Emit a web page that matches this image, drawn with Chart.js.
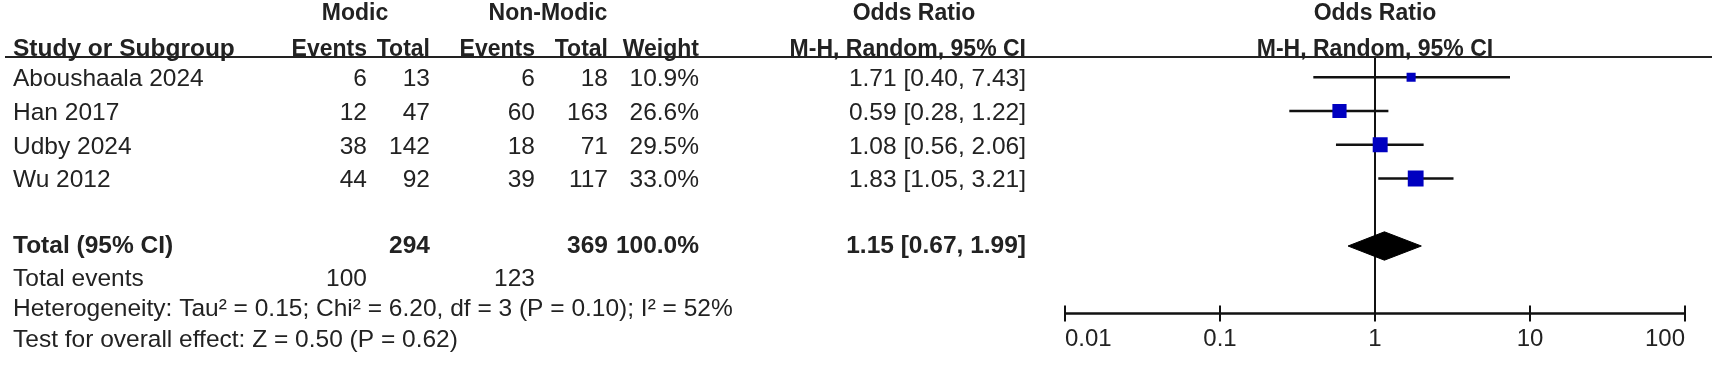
<!DOCTYPE html>
<html lang="en">
<head>
  <meta charset="UTF-8" />
  <title>Forest plot - Modic vs Non-Modic</title>
  <style>
    html, body { margin: 0; padding: 0; background: #fff; }
    #wrap { width: 1712px; height: 375px; position: relative; }
  </style>
</head>
<body>
  <div id="wrap"><canvas id="forest"></canvas></div>

  <script src="https://cdn.jsdelivr.net/npm/chart.js"></script>
  <script>
    // study data
    const studies = ['Aboushaala 2024', 'Han 2017', 'Udby 2024', 'Wu 2012'];
    const modicEvents = [6, 12, 38, 44];
    const modicTotal = [13, 47, 142, 92];
    const nonModicEvents = [6, 60, 18, 39];
    const nonModicTotal = [18, 163, 71, 117];
    const weights = [10.9, 26.6, 29.5, 33.0];
    const orEst = [1.71, 0.59, 1.08, 1.83];
    const orLow = [0.40, 0.28, 0.56, 1.05];
    const orHigh = [7.43, 1.22, 2.06, 3.21];

    // pooled result
    const pooled = { est: 1.15, low: 0.67, high: 1.99 };
    const totals = { modic: 294, nonModic: 369, weight: '100.0%' };
    const totalEvents = { modic: 100, nonModic: 123 };
    const heterogeneity = 'Heterogeneity: Tau\u00B2 = 0.15; Chi\u00B2 = 6.20, df = 3 (P = 0.10); I\u00B2 = 52%';
    const overallEffect = 'Test for overall effect: Z = 0.50 (P = 0.62)';

    const axisTicks = [0.01, 0.1, 1, 10, 100];
    const axisLabels = ['0.01', '0.1', '1', '10', '100'];

    const POOLED_ROW = 5;
    const FONT = '"Liberation Sans", Arial, sans-serif';
    const TXT = '#222';
    const BODY = 24.5;

    // column anchors (right edges unless noted)
    const COL = { study: 13, mEv: 367, mTot: 430, nEv: 535, nTot: 608, weight: 699, or: 1026 };

    const fmtOR = (e, l, h) => `${e.toFixed(2)} [${l.toFixed(2)}, ${h.toFixed(2)}]`;

    // box side grows with sqrt of weight (area ~ weight)
    const boxSide = w => 2.75 * Math.sqrt(w);

    const ciSets = studies.map((s, i) => ({
      label: s,
      data: [{ x: orLow[i], y: i }, { x: orHigh[i], y: i }],
      showLine: true,
      borderColor: '#111',
      borderWidth: 2.5,
      pointRadius: 0,
      order: 2
    }));

    const tablePlugin = {
      id: 'forestTable',
      afterDraw(chart) {
        const ctx = chart.ctx;
        const xs = chart.scales.x;
        const ys = chart.scales.y;
        const area = chart.chartArea;
        const plotMid = (area.left + area.right) / 2;

        const text = (t, x, y, align, bold, size) => {
          ctx.font = `${bold ? 'bold ' : ''}${size || BODY}px ${FONT}`;
          ctx.textAlign = align;
          ctx.textBaseline = 'middle';
          ctx.fillStyle = TXT;
          ctx.fillText(t, x, y);
        };
        const head = (t, x, y, align, size) => text(t, x, y, align, true, size || 23);

        ctx.save();
        // headers
        head('Modic', 355, 14, 'center');
        head('Non-Modic', 548, 14, 'center');
        head('Odds Ratio', 914, 14, 'center');
        head('Odds Ratio', plotMid, 14, 'center');

        head('Study or Subgroup', COL.study, 49.5, 'left', 24.5);
        head('Events', COL.mEv, 49.5, 'right');
        head('Total', COL.mTot, 49.5, 'right');
        head('Events', COL.nEv, 49.5, 'right');
        head('Total', COL.nTot, 49.5, 'right');
        head('Weight', COL.weight, 49.5, 'right');
        head('M-H, Random, 95% CI', COL.or, 49.5, 'right');
        head('M-H, Random, 95% CI', plotMid, 49.5, 'center');

        ctx.strokeStyle = '#222';
        ctx.lineWidth = 2;
        ctx.beginPath();
        ctx.moveTo(5, area.top);
        ctx.lineTo(1712, area.top);
        ctx.stroke();

        // study rows
        studies.forEach((s, i) => {
          const y = ys.getPixelForValue(i) + 2;
          text(s, COL.study, y, 'left');
          text(String(modicEvents[i]), COL.mEv, y, 'right');
          text(String(modicTotal[i]), COL.mTot, y, 'right');
          text(String(nonModicEvents[i]), COL.nEv, y, 'right');
          text(String(nonModicTotal[i]), COL.nTot, y, 'right');
          text(weights[i].toFixed(1) + '%', COL.weight, y, 'right');
          text(fmtOR(orEst[i], orLow[i], orHigh[i]), COL.or, y, 'right');
        });

        // pooled row
        const yt = ys.getPixelForValue(POOLED_ROW);
        text('Total (95% CI)', COL.study, yt, 'left', true);
        text(String(totals.modic), COL.mTot, yt, 'right', true);
        text(String(totals.nonModic), COL.nTot, yt, 'right', true);
        text(totals.weight, COL.weight, yt, 'right', true);
        text(fmtOR(pooled.est, pooled.low, pooled.high), COL.or, yt, 'right', true);

        text('Total events', COL.study, 279, 'left');
        text(String(totalEvents.modic), COL.mEv, 279, 'right');
        text(String(totalEvents.nonModic), COL.nEv, 279, 'right');
        text(heterogeneity, COL.study, 309, 'left');
        text(overallEffect, COL.study, 340, 'left');

        // x axis
        const yb = area.bottom;
        ctx.strokeStyle = '#111';
        ctx.lineWidth = 2.5;
        ctx.beginPath();
        ctx.moveTo(xs.getPixelForValue(axisTicks[0]), yb);
        ctx.lineTo(xs.getPixelForValue(axisTicks[axisTicks.length - 1]), yb);
        ctx.stroke();
        ctx.lineWidth = 2;
        axisTicks.forEach((v, k) => {
          const px = xs.getPixelForValue(v);
          ctx.beginPath();
          ctx.moveTo(px, yb - 8);
          ctx.lineTo(px, yb + 8);
          ctx.stroke();
          const align = k === 0 ? 'left' : (k === axisTicks.length - 1 ? 'right' : 'center');
          text(axisLabels[k], px, yb + 26, align, false, 24);
        });
        ctx.restore();
      }
    };

    new Chart(document.getElementById('forest'), {
      type: 'scatter',
      data: {
        datasets: [
          {
            label: 'no effect',
            data: [{ x: 1, y: -0.6 }, { x: 1, y: 7 }],
            showLine: true,
            borderColor: '#111',
            borderWidth: 2,
            pointRadius: 0,
            order: 3
          },
          ...ciSets,
          {
            label: 'Odds ratio',
            data: orEst.map((v, i) => ({ x: v, y: i })),
            pointStyle: 'rect',
            pointRadius: ctx => boxSide(weights[ctx.dataIndex]) / Math.SQRT2,
            backgroundColor: '#0000c0',
            borderWidth: 0,
            order: 0
          },
          {
            label: 'Total (95% CI)',
            data: [
              { x: pooled.low, y: POOLED_ROW },
              { x: pooled.est, y: POOLED_ROW - 0.42 },
              { x: pooled.high, y: POOLED_ROW },
              { x: pooled.est, y: POOLED_ROW + 0.42 },
              { x: pooled.low, y: POOLED_ROW }
            ],
            showLine: true,
            fill: 'shape',
            backgroundColor: '#000',
            borderColor: '#000',
            borderWidth: 1,
            pointRadius: 0,
            order: 1
          }
        ]
      },
      options: {
        responsive: true,
        maintainAspectRatio: false,
        animation: false,
        layout: { padding: { left: 1065, right: 27, top: 57, bottom: 61.5 } },
        scales: {
          x: { type: 'logarithmic', min: 0.01, max: 100, display: false },
          y: { type: 'linear', min: -0.6, max: 7, reverse: true, display: false }
        },
        plugins: {
          legend: { display: false },
          tooltip: { enabled: false }
        }
      },
      plugins: [tablePlugin]
    });
  </script>
</body>
</html>
